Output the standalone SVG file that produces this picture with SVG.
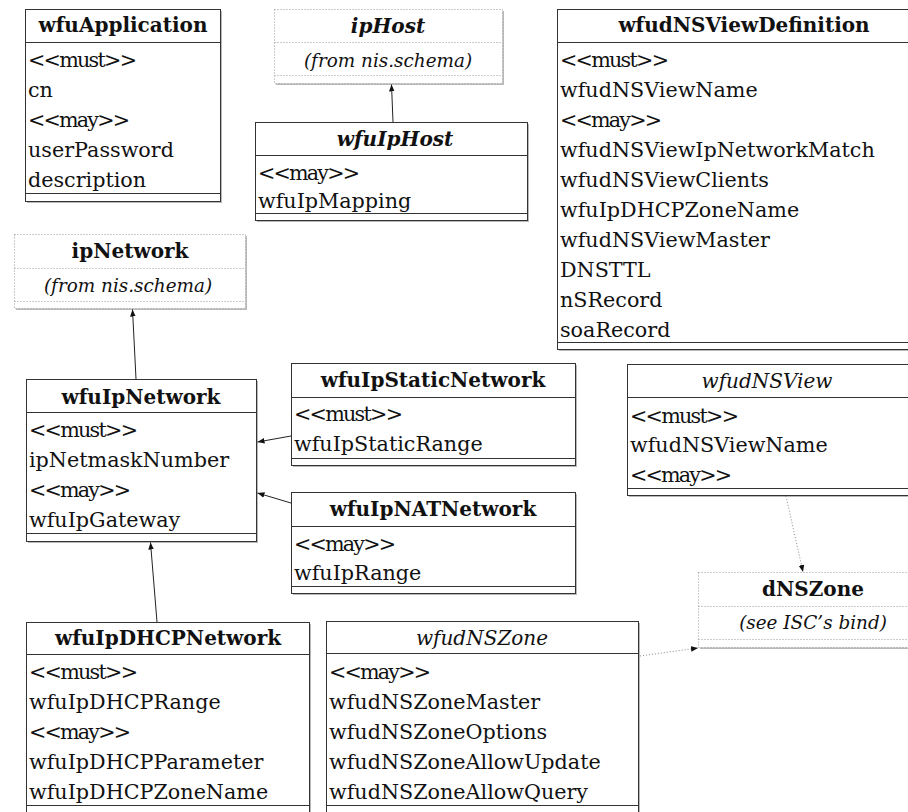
<svg xmlns="http://www.w3.org/2000/svg" width="908" height="812" viewBox="0 0 908 812">
<style>
.bg{fill:#fff}
.sh{fill:#b8b8b8}
.box{fill:#fff;stroke:#333;stroke-width:1}
.dbox{fill:#fff;stroke:#999;stroke-width:1;stroke-dasharray:1 2}
.ln{stroke:#333;stroke-width:1}
.dln{stroke:#999;stroke-width:1;stroke-dasharray:1 2}
.t{font-family:"DejaVu Serif",serif;font-size:20px;font-weight:bold;text-anchor:middle;fill:#111}
.ti{font-family:"DejaVu Serif",serif;font-size:20px;font-style:italic;text-anchor:middle;fill:#111}
.sub{font-family:"DejaVu Serif",serif;font-size:18.4px;font-style:italic;text-anchor:middle;fill:#111}
.tbi{font-family:"DejaVu Serif",serif;font-size:20px;font-style:italic;font-weight:bold;text-anchor:middle;fill:#111}
.a{font-family:"DejaVu Serif",serif;font-size:20.7px;fill:#111}
.c{stroke:#222;stroke-width:1;fill:none}
.cd{stroke:#888;stroke-width:1;fill:none;stroke-dasharray:1 2}
</style>
<defs>
<marker id="ah" markerUnits="userSpaceOnUse" markerWidth="8" markerHeight="8" viewBox="0 0 8 8" refX="7" refY="4" orient="auto">
<path d="M0,1.2 L7,4 L0,6.8 Z" fill="#111"/>
</marker>
</defs>
<rect class="bg" x="0" y="0" width="908" height="812"/>

<g id="wfuApplication">
<rect class="sh" x="27" y="11" width="195" height="192"/>
<rect class="box" x="25.5" y="9.5" width="195" height="192"/>
<line class="ln" x1="25.5" y1="42.5" x2="220.5" y2="42.5"/>
<line class="ln" x1="25.5" y1="193.5" x2="220.5" y2="193.5"/>
<text class="t" x="123" y="32">wfuApplication</text>
<text class="a" x="28" y="67" textLength="109">&lt;&lt;must&gt;&gt;</text>
<text class="a" x="28" y="97">cn</text>
<text class="a" x="28" y="127" textLength="102">&lt;&lt;may&gt;&gt;</text>
<text class="a" x="28" y="157">userPassword</text>
<text class="a" x="28" y="187">description</text>
</g>

<g id="ipHost">
<rect class="sh" x="276" y="11" width="228" height="74"/>
<rect class="dbox" x="274.5" y="9.5" width="228" height="74"/>
<line class="dln" x1="274.5" y1="42.5" x2="502.5" y2="42.5"/>
<line class="dln" x1="274.5" y1="75.5" x2="502.5" y2="75.5"/>
<text class="tbi" x="388" y="33">ipHost</text>
<text class="sub" x="388" y="67">(from nis.schema)</text>
</g>

<g id="wfuIpHost">
<rect class="sh" x="257" y="124" width="272" height="98"/>
<rect class="box" x="255.5" y="122.5" width="272" height="98"/>
<line class="ln" x1="255.5" y1="155.5" x2="527.5" y2="155.5"/>
<line class="ln" x1="255.5" y1="213.5" x2="527.5" y2="213.5"/>
<text class="tbi" x="395" y="146">wfuIpHost</text>
<text class="a" x="258" y="180" textLength="102">&lt;&lt;may&gt;&gt;</text>
<text class="a" x="258" y="208">wfuIpMapping</text>
</g>

<g id="wfudNSViewDefinition">
<rect class="sh" x="559" y="11" width="374" height="340"/>
<rect class="box" x="557.5" y="9.5" width="374" height="340"/>
<line class="ln" x1="557.5" y1="42.5" x2="931.5" y2="42.5"/>
<line class="ln" x1="557.5" y1="342.5" x2="931.5" y2="342.5"/>
<text class="t" x="744" y="32">wfudNSViewDefinition</text>
<text class="a" x="560" y="67" textLength="109">&lt;&lt;must&gt;&gt;</text>
<text class="a" x="560" y="97">wfudNSViewName</text>
<text class="a" x="560" y="127" textLength="102">&lt;&lt;may&gt;&gt;</text>
<text class="a" x="560" y="157">wfudNSViewIpNetworkMatch</text>
<text class="a" x="560" y="187">wfudNSViewClients</text>
<text class="a" x="560" y="217">wfuIpDHCPZoneName</text>
<text class="a" x="560" y="247">wfudNSViewMaster</text>
<text class="a" x="560" y="277">DNSTTL</text>
<text class="a" x="560" y="307">nSRecord</text>
<text class="a" x="560" y="337">soaRecord</text>
</g>

<g id="ipNetwork">
<rect class="sh" x="16" y="236" width="231" height="74"/>
<rect class="dbox" x="14.5" y="234.5" width="231" height="74"/>
<line class="dln" x1="14.5" y1="268.5" x2="245.5" y2="268.5"/>
<line class="dln" x1="14.5" y1="301.5" x2="245.5" y2="301.5"/>
<text class="t" x="130" y="258">ipNetwork</text>
<text class="sub" x="128" y="292">(from nis.schema)</text>
</g>

<g id="wfuIpNetwork">
<rect class="sh" x="28" y="381" width="230" height="162"/>
<rect class="box" x="26.5" y="379.5" width="230" height="162"/>
<line class="ln" x1="26.5" y1="412.5" x2="256.5" y2="412.5"/>
<line class="ln" x1="26.5" y1="533.5" x2="256.5" y2="533.5"/>
<text class="t" x="141" y="404">wfuIpNetwork</text>
<text class="a" x="29" y="437" textLength="109">&lt;&lt;must&gt;&gt;</text>
<text class="a" x="29" y="467">ipNetmaskNumber</text>
<text class="a" x="29" y="497" textLength="102">&lt;&lt;may&gt;&gt;</text>
<text class="a" x="29" y="527">wfuIpGateway</text>
</g>

<g id="wfuIpStaticNetwork">
<rect class="sh" x="293" y="365" width="284" height="102"/>
<rect class="box" x="291.5" y="363.5" width="284" height="102"/>
<line class="ln" x1="291.5" y1="397.5" x2="575.5" y2="397.5"/>
<line class="ln" x1="291.5" y1="458.5" x2="575.5" y2="458.5"/>
<text class="t" x="433" y="387">wfuIpStaticNetwork</text>
<text class="a" x="294" y="421" textLength="109">&lt;&lt;must&gt;&gt;</text>
<text class="a" x="294" y="451">wfuIpStaticRange</text>
</g>

<g id="wfuIpNATNetwork">
<rect class="sh" x="293" y="494" width="284" height="101"/>
<rect class="box" x="291.5" y="492.5" width="284" height="101"/>
<line class="ln" x1="291.5" y1="526.5" x2="575.5" y2="526.5"/>
<line class="ln" x1="291.5" y1="586.5" x2="575.5" y2="586.5"/>
<text class="t" x="433" y="516">wfuIpNATNetwork</text>
<text class="a" x="294" y="551" textLength="102">&lt;&lt;may&gt;&gt;</text>
<text class="a" x="294" y="580">wfuIpRange</text>
</g>

<g id="wfudNSView">
<rect class="sh" x="629" y="366" width="282" height="131"/>
<rect class="box" x="627.5" y="364.5" width="282" height="131"/>
<line class="ln" x1="627.5" y1="397.5" x2="909.5" y2="397.5"/>
<line class="ln" x1="627.5" y1="488.5" x2="909.5" y2="488.5"/>
<text class="ti" x="767" y="388">wfudNSView</text>
<text class="a" x="630" y="423" textLength="109">&lt;&lt;must&gt;&gt;</text>
<text class="a" x="630" y="452">wfudNSViewName</text>
<text class="a" x="630" y="482" textLength="102">&lt;&lt;may&gt;&gt;</text>
</g>

<g id="dNSZone">
<rect class="sh" x="700" y="574" width="230" height="75"/>
<rect class="dbox" x="698.5" y="572.5" width="230" height="75"/>
<line class="dln" x1="698.5" y1="606.5" x2="928.5" y2="606.5"/>
<line class="dln" x1="698.5" y1="639.5" x2="928.5" y2="639.5"/>
<text class="t" x="813" y="596">dNSZone</text>
<text class="sub" x="813" y="629">(see ISC’s bind)</text>
</g>

<g id="wfuIpDHCPNetwork">
<rect class="sh" x="28" y="624" width="283" height="200"/>
<rect class="box" x="26.5" y="622.5" width="283" height="200"/>
<line class="ln" x1="26.5" y1="654.5" x2="309.5" y2="654.5"/>
<line class="ln" x1="26.5" y1="805.5" x2="309.5" y2="805.5"/>
<text class="t" x="168" y="645">wfuIpDHCPNetwork</text>
<text class="a" x="29" y="679" textLength="109">&lt;&lt;must&gt;&gt;</text>
<text class="a" x="29" y="709">wfuIpDHCPRange</text>
<text class="a" x="29" y="739" textLength="102">&lt;&lt;may&gt;&gt;</text>
<text class="a" x="29" y="769">wfuIpDHCPParameter</text>
<text class="a" x="29" y="799">wfuIpDHCPZoneName</text>
</g>

<g id="wfudNSZone">
<rect class="sh" x="328" y="623" width="312" height="200"/>
<rect class="box" x="326.5" y="621.5" width="312" height="200"/>
<line class="ln" x1="326.5" y1="653.5" x2="638.5" y2="653.5"/>
<line class="ln" x1="326.5" y1="805.5" x2="638.5" y2="805.5"/>
<text class="ti" x="482" y="645">wfudNSZone</text>
<text class="a" x="329" y="679" textLength="102">&lt;&lt;may&gt;&gt;</text>
<text class="a" x="329" y="709">wfudNSZoneMaster</text>
<text class="a" x="329" y="739">wfudNSZoneOptions</text>
<text class="a" x="329" y="769">wfudNSZoneAllowUpdate</text>
<text class="a" x="329" y="799">wfudNSZoneAllowQuery</text>
</g>

<g id="connectors">
<line class="c" x1="393" y1="122" x2="391.5" y2="84.5" marker-end="url(#ah)"/>
<line class="c" x1="136" y1="379" x2="132.5" y2="309.5" marker-end="url(#ah)"/>
<line class="c" x1="291" y1="436" x2="257.5" y2="442" marker-end="url(#ah)"/>
<line class="c" x1="291" y1="503" x2="257.5" y2="493" marker-end="url(#ah)"/>
<line class="c" x1="157" y1="622" x2="150.5" y2="542.5" marker-end="url(#ah)"/>
<line class="cd" x1="786" y1="496" x2="803" y2="572" marker-end="url(#ah)"/>
<line class="cd" x1="640" y1="656" x2="698" y2="648" marker-end="url(#ah)"/>
</g>
</svg>
